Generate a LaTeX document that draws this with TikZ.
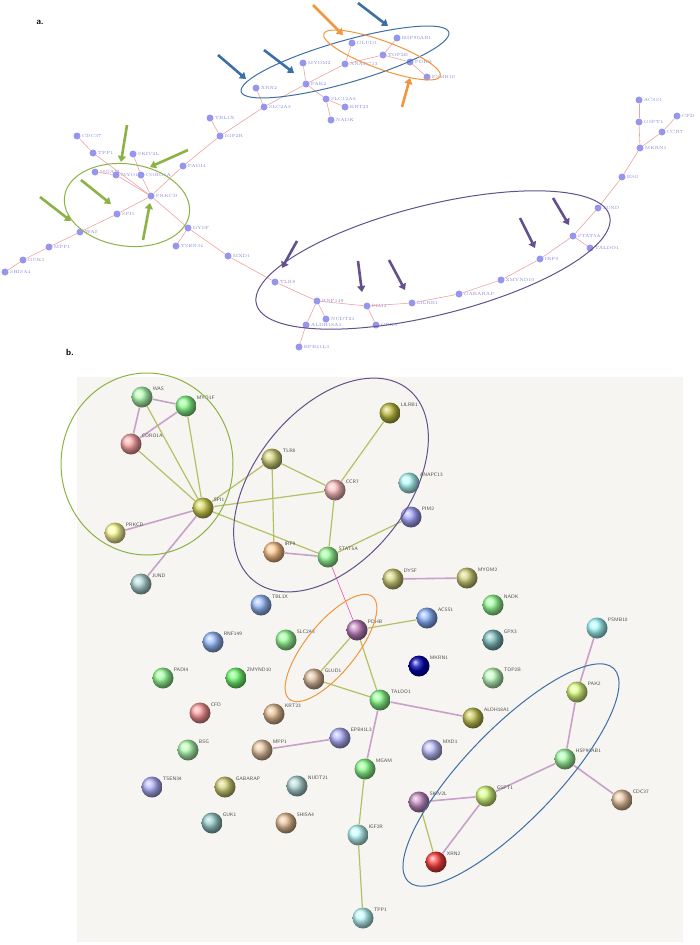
\documentclass[tikz,border=0pt]{standalone}
\usepackage{tikz}
\usetikzlibrary{arrows.meta}
\definecolor{dotc}{RGB}{150,150,238}
\definecolor{linka}{RGB}{240,160,160}
\definecolor{olivel}{RGB}{180,192,100}
\definecolor{mauvel}{RGB}{200,160,200}
\definecolor{grpgreen}{RGB}{140,178,70}
\definecolor{grpblue}{RGB}{62,110,166}
\definecolor{grporange}{RGB}{240,150,60}
\definecolor{grppurple}{RGB}{100,80,140}
\definecolor{bgb}{RGB}{246,245,241}
\tikzset{
  dot/.style={circle,fill=dotc,inner sep=0,minimum size=7pt},
  lbla/.style={text=dotc!90!black,font=\fontsize{4.5}{5}\selectfont,inner sep=1pt},
  ball/.style={circle,inner sep=0,minimum size=21pt},
  lblb/.style={text=black!70,font=\sffamily\fontsize{5}{5}\selectfont,inner sep=0,anchor=south west},
  lnka/.style={linka,line width=0.6pt},
  lnk/.style={olivel,line width=1.2pt},
  lnkp/.style={mauvel,line width=1.6pt},
  pointer/.style={line width=2.6pt,-{Triangle[length=6pt,width=8pt]}},
  grp/.style={line width=1pt}
}
\begin{document}
\begin{tikzpicture}[x=1pt,y=-1pt]
  \useasboundingbox (0,0) rectangle (699,945);

  % panel a
  \node[font=\sffamily\bfseries\small] (labela) at (40,22) {a.};
  \foreach \n/\x/\y in {CDC37/77/136,TPP1/93/153,SKIV2L/133/154,MGAM/95/172,MYO1F/116/175,
      CORO1A/141/175,PADI4/183/166,PRKCD/151/196,SPI1/117/214,WAS/80/232,MPP1/49/247,
      GUK1/23/260,SHISA4/5/272,DYSF/188/228,TSEN34/176/246,MXD1/228/256,IGF2R/220/136,
      TBL1X/210/118,SLC2A3/264/107,XRN2/256/88,PAK2/306/84,MYOM2/303/63,ANAPC13/345/64,
      GLUD1/352/43,HSP90AB1/397/38,TOP2B/383/55,PDHB/410/62,PSMB10/427/77,SLC12A6/326/99,
      KRT23/345/107,NADK/331/120,ACSS1/639/100,GSPT1/639/122,CFD/677/116,CCR7/662/132,
      MKRN1/640/148,BSG/622/177,JUND/598/208,STAT5A/573/236,TALDO1/590/248,IRF9/540/259,
      ZMYND10/501/280,GABARAP/459/294,LILRB1/412/303,PIM2/367/306,GPX3/376/325,
      RNF149/317/301,NUDT21/326/319,ALDH18A1/306/325,EPB41L3/299/347,TLR8/275/282}
    \node[dot,label={[lbla]right:\n}] (a\n) at (\x,\y) {};
  \foreach \p/\q in {CDC37/TPP1,TPP1/PRKCD,MGAM/MYO1F,MYO1F/PRKCD,SKIV2L/CORO1A,CORO1A/PRKCD,
      PRKCD/PADI4,PADI4/IGF2R,IGF2R/TBL1X,IGF2R/SLC2A3,SLC2A3/XRN2,SLC2A3/PAK2,PAK2/MYOM2,
      PAK2/ANAPC13,ANAPC13/GLUD1,ANAPC13/TOP2B,TOP2B/HSP90AB1,TOP2B/PDHB,PDHB/PSMB10,
      PAK2/SLC12A6,SLC12A6/KRT23,SLC12A6/NADK,PRKCD/SPI1,SPI1/WAS,WAS/MPP1,MPP1/GUK1,
      GUK1/SHISA4,PRKCD/DYSF,DYSF/TSEN34,DYSF/MXD1,MXD1/TLR8,TLR8/RNF149,RNF149/PIM2,
      PIM2/GPX3,PIM2/LILRB1,LILRB1/GABARAP,GABARAP/ZMYND10,ZMYND10/IRF9,IRF9/STAT5A,
      STAT5A/TALDO1,STAT5A/JUND,JUND/BSG,BSG/MKRN1,MKRN1/GSPT1,GSPT1/ACSS1,MKRN1/CCR7,
      CCR7/CFD,RNF149/NUDT21,RNF149/ALDH18A1,ALDH18A1/EPB41L3}
    \draw[lnka] (a\p) -- (a\q);

  % groups in a
  \draw[grp,grpgreen,rotate around={-8:(127,205)}] (127,205) ellipse [x radius=63pt,y radius=41pt];
  \draw[grp,grpblue,rotate around={16:(345,62)}] (345,62) ellipse [x radius=108pt,y radius=21pt];
  \draw[grp,grporange,rotate around={-20:(382,55)}] (382,55) ellipse [x radius=62pt,y radius=14pt];
  \draw[grp,grppurple,rotate around={14:(433,260)}] (433,260) ellipse [x radius=182pt,y radius=55pt];

  \foreach \sx/\sy/\ex/\ey in {218/55/246/79,264/50/294/73,358/3/388/26}
    \draw[pointer,grpblue] (\sx,\sy) -- (\ex,\ey);
  \foreach \sx/\sy/\ex/\ey in {313/5/343/35,402/107/410/78}
    \draw[pointer,grporange] (\sx,\sy) -- (\ex,\ey);
  \foreach \sx/\sy/\ex/\ey in {127/125/121/162,188/150/150/167,81/180/111/204,40/197/71/221,143/240/150/203}
    \draw[pointer,grpgreen] (\sx,\sy) -- (\ex,\ey);
  \foreach \sx/\sy/\ex/\ey in {297/241/282/268,358/261/362/292,389/260/405/290,520/218/535/248,553/198/569/225}
    \draw[pointer,grppurple] (\sx,\sy) -- (\ex,\ey);

  % panel b
  \node[font=\sffamily\bfseries\small] (labelb) at (70,352) {b.};
  \fill[bgb] (77,377) rectangle (683,942);

  \foreach \n/\x/\y/\c in {WAS/142/397/green!30,MYO1F/186/406/green!45,CORO1A/131/444/red!35,
      SPI1/203/508/yellow!35!olive!50,PRKCD/115/533/yellow!40,JUND/141/584/teal!30,
      TLR8/272/459/olive!35,CCR7/335/490/red!25,LILRB1/390/413/olive!50,ANAPC13/409/483/cyan!30,
      PIM2/411/517/blue!35,IRF9/274/552/orange!45,STAT5A/328/557/green!40,DYSF/393/579/olive!35,
      MYOM2/467/578/olive!35,TBL1X/261/605/cyan!35!blue!40,PDHB/357/630/violet!50,
      ACSS1/427/618/cyan!35!blue!45,NADK/493/605/green!40,RNF149/213/642/cyan!35!blue!40,
      SLC2A3/286/640/green!40,GPX3/493/640/teal!50,MKRN1/419/666/blue!70!black,
      PADI4/163/678/green!40,ZMYND10/236/678/green!55,GLUD1/314/679/brown!50,
      TOP2B/493/678/green!25,PSMB10/597/628/cyan!35,TALDO1/380/700/green!45,
      PAK2/577/692/green!25!yellow!50,CFD/200/713/red!40,KRT23/274/714/orange!30!brown!50,
      ALDH18A1/473/718/olive!45,EPB41L3/340/738/blue!30,BSG/188/750/green!30,
      MPP1/262/750/orange!25!brown!45,MXD1/432/750/blue!25,HSP90AB1/565/759/green!35,
      MGAM/365/769/green!45,TSEN34/152/787/blue!30,GABARAP/225/787/olive!35,
      NUDT21/297/786/teal!30,SKIV2L/419/802/violet!45,GSPT1/486/796/green!30!yellow!50,
      CDC37/622/800/orange!25!brown!45,GUK1/212/823/teal!40,SHISA4/286/823/orange!30!brown!50,
      IGF2R/358/835/cyan!25,XRN2/436/862/red!75,TPP1/363/918/cyan!25}
    \node[ball,ball color=\c] (b\n) at (\x,\y) {};
  \foreach \p/\q/\s in {WAS/MYO1F/lnkp,WAS/CORO1A/lnkp,MYO1F/CORO1A/lnkp,WAS/SPI1/lnk,
      MYO1F/SPI1/lnk,CORO1A/SPI1/lnk,PRKCD/SPI1/lnkp,JUND/SPI1/lnkp,SPI1/TLR8/lnk,
      SPI1/CCR7/lnk,SPI1/STAT5A/lnk,TLR8/CCR7/lnk,TLR8/IRF9/lnk,CCR7/LILRB1/lnk,
      CCR7/STAT5A/lnk,IRF9/STAT5A/lnkp,STAT5A/PIM2/lnk,DYSF/MYOM2/lnkp,PDHB/ACSS1/lnk,
      PDHB/GLUD1/lnk,PDHB/TALDO1/lnk,GLUD1/TALDO1/lnk,TALDO1/ALDH18A1/lnkp,
      TALDO1/MGAM/lnkp,MPP1/EPB41L3/lnkp,MGAM/IGF2R/lnk,IGF2R/TPP1/lnk,PSMB10/PAK2/lnkp,
      PAK2/HSP90AB1/lnkp,HSP90AB1/GSPT1/lnkp,HSP90AB1/CDC37/lnkp,GSPT1/SKIV2L/lnkp,
      GSPT1/XRN2/lnkp,SKIV2L/XRN2/lnk}
    \draw[\s] (b\p) -- (b\q);
  \draw[magenta!70,line width=0.6pt] (bSTAT5A) -- (bPDHB);
  \foreach \n in {WAS,MYO1F,CORO1A,SPI1,PRKCD,JUND,TLR8,CCR7,LILRB1,ANAPC13,PIM2,IRF9,STAT5A,
      DYSF,MYOM2,TBL1X,PDHB,ACSS1,NADK,RNF149,SLC2A3,GPX3,MKRN1,PADI4,ZMYND10,GLUD1,TOP2B,
      PSMB10,TALDO1,PAK2,CFD,KRT23,ALDH18A1,EPB41L3,BSG,MPP1,MXD1,HSP90AB1,MGAM,TSEN34,
      GABARAP,NUDT21,SKIV2L,GSPT1,CDC37,GUK1,SHISA4,IGF2R,XRN2,TPP1}
    \node[lblb] (t\n) at ([xshift=3pt,yshift=-1pt]b\n.north east) {\n};

  % groups in b
  \draw[grp,grpgreen] (147,464) ellipse [x radius=86pt,y radius=91pt];
  \draw[grp,grppurple,rotate around={51:(331,485)}] (331,485) ellipse [x radius=123pt,y radius=76pt];
  \draw[grp,grporange,rotate around={51:(331,648)}] (331,648) ellipse [x radius=66pt,y radius=25pt];
  \draw[grp,grpblue,rotate around={46:(511,775)}] (511,775) ellipse [x radius=148pt,y radius=46pt];
\end{tikzpicture}
\end{document}
